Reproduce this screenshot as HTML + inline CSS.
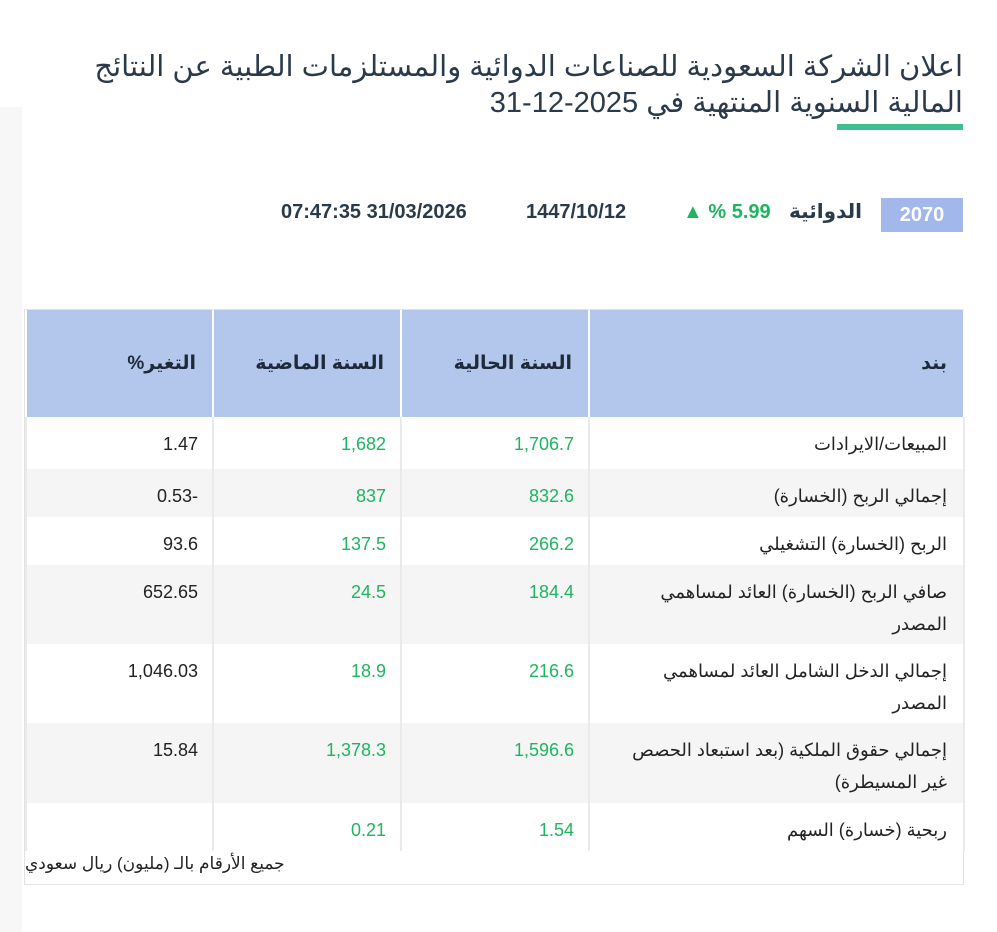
<!DOCTYPE html>
<html lang="ar" dir="rtl">
<head>
<meta charset="utf-8">
<style>
html,body{margin:0;padding:0;background:#fff;width:997px;height:932px;overflow:hidden;position:relative;font-family:"Liberation Sans","DejaVu Sans",sans-serif;color:#222}
.strip{position:absolute;left:0;top:107px;width:22px;height:825px;background:#f7f7f7}
h1{position:absolute;right:34px;top:49px;margin:0;width:900px;font-weight:normal;font-size:29px;line-height:36px;color:#2b3a4a;text-align:right}
.uline{position:absolute;left:837px;top:124px;width:126px;height:6px;background:#3dbf8f}
.info{position:absolute;top:196px;height:36px;font-weight:bold;font-size:20px;line-height:32px;color:#2b3a4a;white-space:nowrap}
.code{left:881px;top:198px;width:82px;height:34px;background:#a3b8ea;color:#fff;text-align:center;font-size:20px;line-height:34px}
table{position:absolute;left:25px;top:310px;width:938px;border-collapse:collapse;table-layout:fixed;font-size:18px}
.wrap{position:absolute;left:24px;top:309px;width:938px;height:574px;border:1px solid #e2e2e2}
th{background:#b3c6ec;height:107px;font-weight:bold;font-size:19px;color:#1e2a3a;text-align:right;padding:0 16px;border-left:2px solid #fff;border-right:2px solid #fff}
td{text-align:right;padding:0 14px 0 14px;vertical-align:top;border-left:2px solid #eaeaea;border-right:2px solid #eaeaea;line-height:32px;padding-top:11px}
td:first-child{padding-left:40px;padding-right:16px}
tr.g td{background:#f5f5f5}
.n{color:#1fb55f}
.foot{position:absolute;left:25px;top:854px;font-size:17px;color:#222;direction:rtl}
</style>
</head>
<body>
<div class="strip"></div>
<h1>اعلان الشركة السعودية للصناعات الدوائية والمستلزمات الطبية عن النتائج المالية السنوية المنتهية في 2025-12-31</h1>
<div class="uline"></div>
<div class="info code">2070</div>
<div class="info" style="right:135px">الدوائية</div>
<div class="info" style="left:683px;color:#1fb55f;direction:ltr">▲ % 5.99</div>
<div class="info" style="left:526px;direction:ltr">1447/10/12</div>
<div class="info" style="left:281px;direction:ltr">07:47:35 31/03/2026</div>
<div class="wrap"></div>
<table>
<colgroup><col style="width:375px"><col style="width:188px"><col style="width:188px"><col style="width:187px"></colgroup>
<tr><th>بند</th><th>السنة الحالية</th><th>السنة الماضية</th><th>التغير%</th></tr>
<tr style="height:52px"><td>المبيعات/الايرادات</td><td class="n">1,706.7</td><td class="n">1,682</td><td>1.47</td></tr>
<tr class="g" style="height:48px"><td>إجمالي الربح (الخسارة)</td><td class="n">832.6</td><td class="n">837</td><td>-0.53</td></tr>
<tr style="height:48px"><td>الربح (الخسارة) التشغيلي</td><td class="n">266.2</td><td class="n">137.5</td><td>93.6</td></tr>
<tr class="g" style="height:79px"><td>صافي الربح (الخسارة) العائد لمساهمي المصدر</td><td class="n">184.4</td><td class="n">24.5</td><td>652.65</td></tr>
<tr style="height:79px"><td>إجمالي الدخل الشامل العائد لمساهمي المصدر</td><td class="n">216.6</td><td class="n">18.9</td><td>1,046.03</td></tr>
<tr class="g" style="height:80px"><td>إجمالي حقوق الملكية (بعد استبعاد الحصص غير المسيطرة)</td><td class="n">1,596.6</td><td class="n">1,378.3</td><td>15.84</td></tr>
<tr style="height:48px"><td>ربحية (خسارة) السهم</td><td class="n">1.54</td><td class="n">0.21</td><td></td></tr>
</table>
<div class="foot">جميع الأرقام بالـ (مليون) ريال سعودي</div>
</body>
</html>
